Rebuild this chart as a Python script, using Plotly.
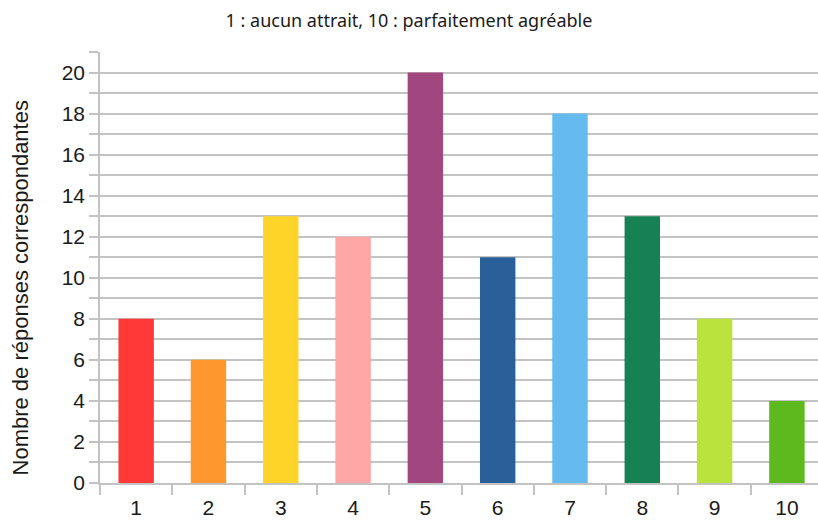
import plotly.graph_objects as go

categories = ["1", "2", "3", "4", "5", "6", "7", "8", "9", "10"]
values = [8, 6, 13, 12, 20, 11, 18, 13, 8, 4]
colors = ["#FF3838", "#FF972F", "#FFD428", "#FFA6A6", "#A1467E",
          "#2A6099", "#65BBEE", "#168253", "#BBE33D", "#5EB91E"]
title_text = "1 : aucun attrait, 10 : parfaitement agréable"
y_title = "Nombre de réponses correspondantes"

grid = "#C3C3C3"
txt = "#1a1a1a"

fig = go.Figure(go.Bar(x=categories, y=values, marker=dict(color=colors, line=dict(width=0)),
                       width=0.49))

fig.update_layout(
    width=818, height=521,
    margin=dict(l=100, r=0, t=52, b=38),
    paper_bgcolor="white", plot_bgcolor="white",
    showlegend=False,
    title=dict(text=title_text, x=0.5, xanchor="center", y=0.961, yanchor="middle",
               font=dict(family="Noto Sans", size=18, color=txt)),
    font=dict(family="Liberation Sans", color=txt),
    annotations=[dict(text=y_title, textangle=-90, xref="paper", yref="paper",
                      x=-0.111, y=0.452, xanchor="center", yanchor="middle",
                      showarrow=False,
                      font=dict(size=22, family="Liberation Sans", color=txt))],
)
fig.update_xaxes(
    type="category", range=[-0.5, 9.43],
    tickson="boundaries", ticks="outside", ticklen=10, tickwidth=1.5, tickcolor=grid,
    showline=True, linecolor=grid, linewidth=1.5, ticklabelstandoff=5,
    showgrid=False, tickfont=dict(size=21, family="Liberation Sans", color=txt),
)
fig.update_yaxes(
    range=[0, 21], dtick=2, tick0=0,
    ticks="outside", ticklen=9, tickwidth=1.5, tickcolor=grid,
    showline=True, linecolor=grid, linewidth=1.5,
    showgrid=True, gridcolor=grid, gridwidth=1.5, zeroline=False,
    minor=dict(dtick=1, showgrid=True, gridcolor=grid, gridwidth=1.5,
               ticks="outside", ticklen=9, tickcolor=grid, tickwidth=1.5),
    tickfont=dict(size=21, family="Liberation Sans", color=txt),
)

fig.write_html("out.html", config={"displayModeBar": False},
               post_script="document.body.style.margin='0';document.body.style.padding='0';")
